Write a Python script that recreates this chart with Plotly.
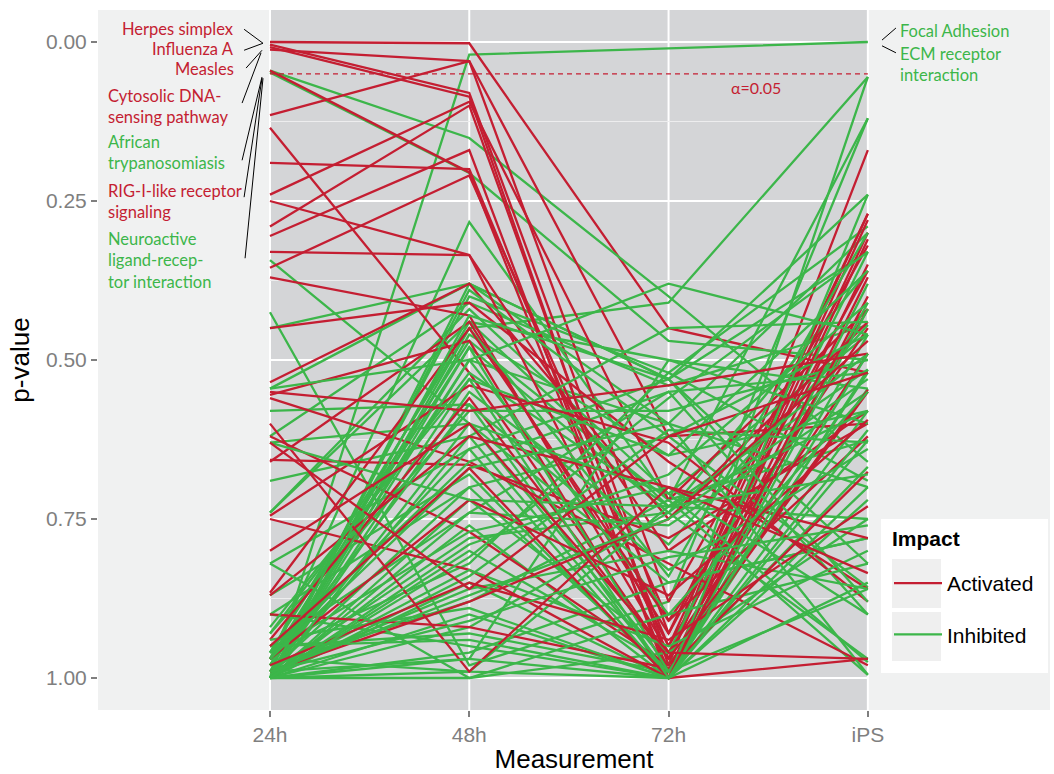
import plotly.graph_objects as go

# ---------------- data ----------------
categories = ["24h", "48h", "72h", "iPS"]

# Activated pathways: p-values at 24h, 48h, 72h, iPS
activated_names = ["Herpes simplex", "Influenza A", "Measles", "Cytosolic DNA-sensing pathway",
                   "RIG-I-like receptor signaling"] + ["Activated pathway %d" % i for i in range(6, 37)]
activated = [
    [0.000, 0.002, 0.45, 0.52],
    [0.004, 0.080, 0.93, 0.27],
    [0.008, 0.086, 0.98, 0.17],
    [0.012, 0.030, 0.62, 0.60],
    [0.045, 0.205, 0.99, 0.35],
    [0.115, 0.030, 0.88, 0.32],
    [0.135, 0.520, 0.97, 0.30],
    [0.190, 0.200, 0.95, 0.27],
    [0.240, 0.094, 0.72, 0.42],
    [0.250, 0.335, 0.95, 0.42],
    [0.290, 0.100, 0.97, 0.28],
    [0.305, 0.170, 1.00, 0.40],
    [0.330, 0.335, 0.80, 0.58],
    [0.355, 0.210, 0.91, 0.45],
    [0.370, 0.430, 0.96, 0.49],
    [0.450, 0.410, 0.66, 0.86],
    [0.535, 0.380, 0.75, 0.44],
    [0.555, 0.470, 0.99, 0.31],
    [0.560, 0.660, 0.82, 0.98],
    [0.657, 0.665, 0.78, 0.60],
    [0.660, 0.440, 0.93, 0.36],
    [0.620, 0.770, 0.98, 0.55],
    [0.745, 0.540, 0.63, 0.88],
    [0.750, 0.830, 1.00, 0.97],
    [0.866, 0.450, 0.91, 0.62],
    [0.870, 0.620, 0.70, 0.78],
    [0.900, 0.920, 0.985, 0.676],
    [0.940, 0.560, 0.97, 0.547],
    [0.990, 0.880, 0.75, 0.47],
    [0.970, 0.720, 0.87, 0.594],
    [0.600, 0.990, 0.70, 0.835],
    [0.980, 0.850, 0.94, 0.73],
    [0.550, 0.580, 0.54, 0.49],
    [0.950, 0.670, 1.00, 0.37],
    [0.630, 0.860, 0.62, 0.52],
    [0.800, 0.600, 0.96, 0.97],
]

# Inhibited pathways: p-values at 24h, 48h, 72h, iPS
inhibited_names = ["Focal Adhesion", "ECM receptor interaction", "African trypanosomiasis",
                   "Neuroactive ligand-receptor interaction"] + ["Inhibited pathway %d" % i for i in range(5, 75)]
inhibited = [
    [1.00, 0.020, 0.010, 0.000],
    [0.96, 0.45, 0.41, 0.055],
    [0.045, 0.151, 0.40, 0.66],
    [0.048, 0.206, 0.47, 0.50],
    [0.97, 0.283, 0.72, 0.12],
    [0.343, 0.60, 0.98, 0.055],
    [0.425, 0.98, 0.88, 0.12],
    [0.45, 0.38, 0.53, 0.24],
    [0.545, 0.38, 0.60, 0.30],
    [1.00, 0.38, 0.53, 0.33],
    [0.99, 0.40, 0.52, 0.29],
    [0.62, 0.41, 0.54, 0.445],
    [0.74, 0.42, 0.71, 0.46],
    [0.74, 0.44, 0.73, 0.515],
    [0.98, 0.44, 0.50, 0.545],
    [1.00, 0.46, 0.65, 0.58],
    [0.96, 0.47, 0.72, 0.626],
    [0.97, 0.48, 0.74, 0.36],
    [1.00, 0.50, 0.60, 0.70],
    [0.93, 0.52, 0.73, 0.75],
    [1.00, 0.55, 0.79, 0.445],
    [0.58, 0.57, 1.00, 0.38],
    [0.63, 0.60, 0.85, 0.78],
    [0.69, 0.62, 0.99, 0.41],
    [0.82, 0.64, 0.53, 0.82],
    [0.87, 0.68, 1.00, 0.515],
    [0.90, 0.70, 0.62, 0.857],
    [1.00, 0.72, 0.96, 0.33],
    [0.95, 0.74, 0.55, 0.90],
    [1.00, 0.76, 1.00, 0.46],
    [0.99, 0.78, 0.74, 0.97],
    [1.00, 0.80, 0.98, 0.545],
    [0.96, 0.82, 0.52, 0.69],
    [1.00, 0.85, 1.00, 0.58],
    [0.98, 0.88, 0.72, 0.995],
    [1.00, 0.90, 1.00, 0.626],
    [0.95, 0.93, 0.99, 0.668],
    [1.00, 0.96, 0.85, 0.78],
    [0.97, 0.99, 1.00, 0.70],
    [1.00, 1.00, 0.96, 0.75],
    [0.99, 0.97, 0.50, 0.60],
    [1.00, 0.62, 0.45, 0.44],
    [0.93, 0.58, 0.58, 0.50],
    [1.00, 0.53, 0.65, 0.36],
    [0.96, 0.66, 0.55, 0.52],
    [1.00, 0.74, 0.76, 0.55],
    [0.99, 0.86, 0.80, 0.86],
    [1.00, 0.45, 0.84, 0.30],
    [0.98, 0.50, 0.90, 0.82],
    [1.00, 0.92, 0.74, 0.49],
    [0.96, 0.77, 0.70, 0.90],
    [0.90, 0.95, 1.00, 0.24],
    [1.00, 0.43, 0.53, 0.88],
    [0.97, 0.64, 1.00, 0.42],
    [1.00, 0.84, 0.61, 0.63],
    [0.99, 0.70, 0.99, 0.86],
    [1.00, 0.99, 0.73, 0.58],
    [0.94, 0.89, 1.00, 0.72],
    [1.00, 0.48, 0.99, 0.52],
    [0.98, 0.57, 0.83, 0.64],
    [0.995, 0.83, 0.95, 0.80],
    [1.00, 0.60, 0.71, 0.975],
    [0.82, 1.00, 0.90, 0.55],
    [1.00, 0.39, 0.62, 0.46],
    [0.95, 0.94, 1.00, 0.85],
    [0.63, 0.72, 0.73, 0.68],
    [1.00, 0.81, 0.56, 0.33],
    [0.97, 0.67, 0.60, 0.995],
    [1.00, 0.97, 1.00, 0.49],
    [0.99, 0.87, 0.75, 0.53],
    [0.92, 0.53, 1.00, 0.61],
    [1.00, 0.79, 0.68, 0.41],
    [0.99, 0.91, 0.81, 0.76],
    [0.545, 0.50, 0.38, 0.46],
]

alpha_level = 0.05
y_ticks = [0.0, 0.25, 0.5, 0.75, 1.0]
y_minor = [0.125, 0.375, 0.625, 0.875]

# ---------------- style ----------------
RED = "#C41E32"
GREEN = "#3CB64A"
DARK = "#D4D5D7"
LIGHT = "#F0F1F1"
KEYBG = "#EFEFEF"
GRAYTXT = "#7F7F7F"
FONT = "Liberation Sans, Arial, sans-serif"
ANNFONT = "Lato, Liberation Sans, sans-serif"

fig = go.Figure()

def add_line(vals, name, color, group, first):
    fig.add_trace(go.Scatter(
        x=categories, y=vals, mode="lines", name=group,
        legendgroup=group, showlegend=first,
        legendrank=1 if group == "Activated" else 2,
        line=dict(color=color, width=2.3),
        hovertext=name, hoverinfo="text+y",
    ))

# interleave drawing order (two inhibited, one activated)
ia = 0
ii = 0
first_a = True
first_i = True
while ia < len(activated) or ii < len(inhibited):
    for _ in range(2):
        if ii < len(inhibited):
            add_line(inhibited[ii], inhibited_names[ii], GREEN, "Inhibited", first_i)
            first_i = False
            ii += 1
    if ia < len(activated):
        add_line(activated[ia], activated_names[ia], RED, "Activated", first_a)
        first_a = False
        ia += 1

# pixel helpers for paper-positioned legend decorations
W, H = 1054, 774
ML, MR, MT, MB = 98, 4, 10, 64
PW, PH = W - ML - MR, H - MT - MB
def px_x(p):
    return (p - ML) / PW
def px_y(p):
    return 1 - (p - MT) / PH

shapes = []
# dark panel region between first and last measurement
shapes.append(dict(type="rect", xref="x", yref="paper", x0=0, x1=len(categories) - 1, y0=0, y1=1,
                   fillcolor=DARK, line=dict(width=0), layer="below"))
for v in y_minor:
    shapes.append(dict(type="line", xref="x", yref="y", x0=0, x1=len(categories) - 1, y0=v, y1=v,
                       line=dict(color="#EDEDEE", width=1), layer="below"))
for v in y_ticks:
    shapes.append(dict(type="line", xref="x", yref="y", x0=0, x1=len(categories) - 1, y0=v, y1=v,
                       line=dict(color="white", width=2), layer="below"))
for i in range(len(categories)):
    shapes.append(dict(type="line", xref="x", yref="paper", x0=i, x1=i, y0=0, y1=1,
                       line=dict(color="white", width=2), layer="below"))
# alpha threshold
shapes.append(dict(type="line", xref="x", yref="y", x0=0, x1=len(categories) - 1, y0=alpha_level, y1=alpha_level,
                   line=dict(color=RED, width=1.2, dash="5px,4px"), layer="above"))

# label connector lines (data coordinates)
connectors = [
    (-0.130, -0.020, -0.035, 0.002),
    (-0.130, 0.013, -0.035, 0.002),
    (-0.120, 0.041, -0.040, 0.013),
    (-0.140, 0.096, -0.045, 0.017),
    (-0.140, 0.186, -0.040, 0.055),
    (-0.130, 0.244, -0.040, 0.057),
    (-0.125, 0.340, -0.035, 0.057),
    (3.071, -0.003, 3.141, -0.022),
    (3.071, 0.006, 3.141, 0.017),
]
for x0, y0, x1, y1 in connectors:
    shapes.append(dict(type="line", xref="x", yref="y", x0=x0, y0=y0, x1=x1, y1=y1,
                       line=dict(color="black", width=1)))

# legend box (white) with grey key backgrounds
shapes.append(dict(type="rect", xref="paper", yref="paper", x0=px_x(881), x1=px_x(1048),
                   y0=px_y(673), y1=px_y(519), fillcolor="white", line=dict(width=0), layer="above"))
shapes.append(dict(type="rect", xref="paper", yref="paper", x0=px_x(892), x1=px_x(941),
                   y0=px_y(608), y1=px_y(559), fillcolor=KEYBG, line=dict(width=0), layer="above"))
shapes.append(dict(type="rect", xref="paper", yref="paper", x0=px_x(892), x1=px_x(941),
                   y0=px_y(661), y1=px_y(612), fillcolor=KEYBG, line=dict(width=0), layer="above"))

annotations = []
def ann(text, x, y, color, xanchor, align):
    annotations.append(dict(text=text, x=x, y=y, xref="x", yref="y", showarrow=False,
                            xanchor=xanchor, yanchor="middle", align=align,
                            font=dict(family=ANNFONT, size=16.5, color=color)))

ann("Herpes simplex", -0.17, -0.020, RED, "right", "right")
ann("Influenza A", -0.17, 0.011, RED, "right", "right")
ann("Measles", -0.17, 0.0425, RED, "right", "right")
ann("Cytosolic DNA-<br>sensing pathway", -0.823, 0.1014, RED, "left", "left")
ann("African<br>trypanosomiasis", -0.823, 0.1745, GREEN, "left", "left")
ann("RIG-I-like receptor<br>signaling", -0.823, 0.2508, RED, "left", "left")
ann("Neuroactive<br>ligand-recep-<br>tor interaction", -0.823, 0.3443, GREEN, "left", "left")
ann("Focal Adhesion", 3.151, -0.0173, GREEN, "left", "left")
ann("ECM receptor<br>interaction", 3.151, 0.0346, GREEN, "left", "left")
annotations.append(dict(text="α=0.05", x=2.44, y=0.072, xref="x", yref="y", showarrow=False,
                        xanchor="center", yanchor="middle",
                        font=dict(family=ANNFONT, size=16, color=RED)))
# legend title
annotations.append(dict(text="<b>Impact</b>", x=px_x(890), y=px_y(538), xref="paper", yref="paper",
                        showarrow=False, xanchor="left", yanchor="middle",
                        font=dict(family=FONT, size=21, color="black")))

fig.update_layout(
    width=W, height=H,
    margin=dict(l=ML, r=MR, t=MT, b=MB),
    paper_bgcolor="white",
    plot_bgcolor=LIGHT,
    font=dict(family=FONT),
    shapes=shapes,
    annotations=annotations,
    showlegend=True,
    legend=dict(
        font=dict(size=21, color="black", family=FONT),
        x=px_x(889), y=px_y(563), xanchor="left", yanchor="top",
        bgcolor="rgba(0,0,0,0)", borderwidth=0,
        tracegroupgap=21, itemwidth=48,
    ),
    xaxis=dict(
        type="category", categoryorder="array", categoryarray=categories,
        range=[-0.863, 3.914], showgrid=False, zeroline=False, showline=False,
        ticks="outside", ticklen=6, tickwidth=2, tickcolor=GRAYTXT,
        tickfont=dict(size=21, color=GRAYTXT, family=FONT),
        title=dict(text="Measurement", font=dict(size=26, color="black", family=FONT), standoff=5),
        fixedrange=True,
    ),
    yaxis=dict(
        range=[1.0503, -0.0503], showgrid=False, zeroline=False, showline=False,
        tickvals=y_ticks, ticktext=["%.2f" % v for v in y_ticks],
        ticks="outside", ticklen=6, tickwidth=2, tickcolor=GRAYTXT,
        tickfont=dict(size=21, color=GRAYTXT, family=FONT),
        title=dict(text="p-value", font=dict(size=26, color="black", family=FONT), standoff=8),
        fixedrange=True,
    ),
)

fig.write_html("out.html")
